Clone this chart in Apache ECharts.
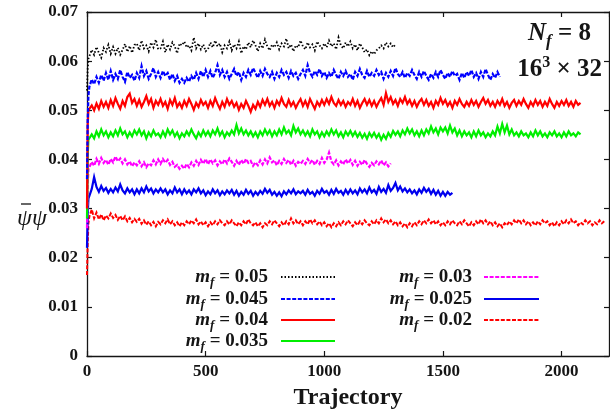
<!DOCTYPE html>
<html>
<head>
<meta charset="utf-8">
<script src="https://cdn.jsdelivr.net/npm/echarts@6/dist/echarts.min.js"></script>
<style>
  html, body { margin: 0; padding: 0; background: #fff; overflow: hidden; }
  #chart { width: 610px; height: 415px; }
</style>
</head>
<body>
<div id="chart"></div>
<script>
// Chiral condensate histories, Nf = 8 on a 16^3 x 32 lattice.
// Thermalization start: values at trajectories 0, 3, 6.
const headTraj = [0, 3, 6];
// Sampled history: one value every 10 trajectories, starting at 10.
const step = 10;

const masses = ['0.05', '0.045', '0.04', '0.035', '0.03', '0.025', '0.02'];

const head005 = [0.0540, 0.0585, 0.0605];
const hist005 = [
  0.0609, 0.0623, 0.0613, 0.0629, 0.0617, 0.0607, 0.0627, 0.0619, 0.0633, 0.0615,
  0.0629, 0.0615, 0.0627, 0.0613, 0.0623, 0.0635, 0.0619, 0.0631, 0.0617, 0.0633,
  0.0636, 0.0622, 0.0642, 0.0626, 0.0632, 0.0620, 0.0638, 0.0628, 0.0644, 0.0624,
  0.0626, 0.0640, 0.0618, 0.0634, 0.0624, 0.0638, 0.0630, 0.0616, 0.0636, 0.0632,
  0.0640, 0.0628, 0.0632, 0.0622, 0.0648, 0.0626, 0.0636, 0.0624, 0.0634, 0.0620,
  0.0624, 0.0638, 0.0628, 0.0642, 0.0630, 0.0636, 0.0618, 0.0632, 0.0626, 0.0640,
  0.0622, 0.0634, 0.0626, 0.0640, 0.0616, 0.0630, 0.0624, 0.0638, 0.0628, 0.0642,
  0.0632, 0.0620, 0.0636, 0.0626, 0.0644, 0.0630, 0.0622, 0.0634, 0.0628, 0.0638,
  0.0624, 0.0636, 0.0630, 0.0646, 0.0626, 0.0634, 0.0620, 0.0632, 0.0628, 0.0642,
  0.0630, 0.0624, 0.0638, 0.0628, 0.0634, 0.0622, 0.0640, 0.0632, 0.0626, 0.0636,
  0.0628, 0.0642, 0.0630, 0.0636, 0.0624, 0.0648, 0.0632, 0.0626, 0.0638, 0.0630,
  0.0640, 0.0626, 0.0634, 0.0622, 0.0636, 0.0628, 0.0618, 0.0624, 0.0612, 0.0620,
  0.0614, 0.0622, 0.0626, 0.0632, 0.0626, 0.0638, 0.0630, 0.0636, 0.0628, 0.0634
];

const head0045 = [0.0360, 0.0480, 0.0530];
const hist0045 = [
  0.0548, 0.0563, 0.0553, 0.0568, 0.0556, 0.0572, 0.0560, 0.0576, 0.0562, 0.0580,
  0.0562, 0.0574, 0.0564, 0.0582, 0.0568, 0.0558, 0.0578, 0.0566, 0.0572, 0.0560,
  0.0576, 0.0566, 0.0590, 0.0570, 0.0580, 0.0564, 0.0574, 0.0586, 0.0568, 0.0578,
  0.0566, 0.0580, 0.0570, 0.0576, 0.0562, 0.0574, 0.0560, 0.0570, 0.0556, 0.0564,
  0.0556, 0.0566, 0.0558, 0.0570, 0.0562, 0.0576, 0.0564, 0.0580, 0.0568, 0.0582,
  0.0568, 0.0580, 0.0566, 0.0576, 0.0592, 0.0572, 0.0582, 0.0568, 0.0578, 0.0564,
  0.0574, 0.0584, 0.0570, 0.0578, 0.0562, 0.0576, 0.0568, 0.0582, 0.0572, 0.0586,
  0.0576, 0.0566, 0.0580, 0.0570, 0.0584, 0.0574, 0.0568, 0.0578, 0.0564, 0.0576,
  0.0568, 0.0582, 0.0572, 0.0578, 0.0566, 0.0580, 0.0570, 0.0576, 0.0564, 0.0574,
  0.0582, 0.0570, 0.0592, 0.0576, 0.0568, 0.0580, 0.0572, 0.0584, 0.0570, 0.0578,
  0.0566, 0.0576, 0.0568, 0.0582, 0.0572, 0.0564, 0.0578, 0.0570, 0.0580, 0.0568,
  0.0574, 0.0562, 0.0578, 0.0570, 0.0584, 0.0572, 0.0566, 0.0580, 0.0568, 0.0576,
  0.0570, 0.0582, 0.0572, 0.0578, 0.0564, 0.0576, 0.0568, 0.0580, 0.0570, 0.0586,
  0.0574, 0.0568, 0.0578, 0.0566, 0.0576, 0.0570, 0.0582, 0.0572, 0.0564, 0.0578,
  0.0568, 0.0580, 0.0570, 0.0562, 0.0574, 0.0566, 0.0578, 0.0568, 0.0582, 0.0572,
  0.0564, 0.0576, 0.0568, 0.0580, 0.0570, 0.0574, 0.0562, 0.0576, 0.0566, 0.0578,
  0.0570, 0.0582, 0.0568, 0.0576, 0.0564, 0.0578, 0.0568, 0.0584, 0.0572, 0.0562,
  0.0574, 0.0566, 0.0578, 0.0568
];

const head004 = [0.0300, 0.0470, 0.0500];
const hist004 = [
  0.0498, 0.0510, 0.0500, 0.0514, 0.0503, 0.0519, 0.0507, 0.0517, 0.0505, 0.0521,
  0.0509, 0.0525, 0.0513, 0.0503, 0.0519, 0.0509, 0.0527, 0.0534, 0.0515, 0.0523,
  0.0509, 0.0521, 0.0507, 0.0517, 0.0529, 0.0513, 0.0523, 0.0505, 0.0519, 0.0511,
  0.0523, 0.0509, 0.0517, 0.0503, 0.0521, 0.0511, 0.0525, 0.0507, 0.0515, 0.0505,
  0.0519, 0.0509, 0.0523, 0.0513, 0.0501, 0.0515, 0.0507, 0.0521, 0.0511, 0.0517,
  0.0505, 0.0519, 0.0509, 0.0525, 0.0513, 0.0503, 0.0517, 0.0507, 0.0523, 0.0511,
  0.0519, 0.0507, 0.0515, 0.0501, 0.0513, 0.0505, 0.0519, 0.0509, 0.0497, 0.0511,
  0.0503, 0.0517, 0.0507, 0.0521, 0.0511, 0.0523, 0.0509, 0.0517, 0.0505, 0.0519,
  0.0511, 0.0525, 0.0513, 0.0507, 0.0521, 0.0509, 0.0517, 0.0505, 0.0515, 0.0523,
  0.0509, 0.0519, 0.0507, 0.0523, 0.0513, 0.0503, 0.0517, 0.0509, 0.0521, 0.0511,
  0.0523, 0.0513, 0.0527, 0.0515, 0.0509, 0.0521, 0.0511, 0.0519, 0.0507, 0.0517,
  0.0511, 0.0523, 0.0509, 0.0519, 0.0505, 0.0515, 0.0523, 0.0511, 0.0521, 0.0509,
  0.0519, 0.0507, 0.0517, 0.0525, 0.0511, 0.0535, 0.0517, 0.0527, 0.0513, 0.0521,
  0.0509, 0.0523, 0.0515, 0.0527, 0.0513, 0.0521, 0.0509, 0.0519, 0.0507, 0.0517,
  0.0523, 0.0511, 0.0521, 0.0509, 0.0517, 0.0505, 0.0519, 0.0511, 0.0525, 0.0513,
  0.0521, 0.0509, 0.0517, 0.0505, 0.0519, 0.0511, 0.0523, 0.0513, 0.0507, 0.0517,
  0.0509, 0.0521, 0.0511, 0.0519, 0.0507, 0.0517, 0.0525, 0.0513, 0.0521, 0.0509,
  0.0517, 0.0507, 0.0519, 0.0511, 0.0523, 0.0509, 0.0517, 0.0505, 0.0515, 0.0521,
  0.0509, 0.0519, 0.0511, 0.0523, 0.0513, 0.0505, 0.0517, 0.0509, 0.0521, 0.0511,
  0.0519, 0.0507, 0.0517, 0.0509, 0.0523, 0.0513, 0.0505, 0.0517, 0.0509, 0.0519,
  0.0511, 0.0521, 0.0509, 0.0517, 0.0507, 0.0519, 0.0511, 0.0515
];

const head0035 = [0.0280, 0.0410, 0.0440];
const hist0035 = [
  0.0440, 0.0451, 0.0443, 0.0457, 0.0447, 0.0461, 0.0449, 0.0457, 0.0445, 0.0455,
  0.0447, 0.0459, 0.0449, 0.0463, 0.0451, 0.0457, 0.0445, 0.0455, 0.0447, 0.0459,
  0.0451, 0.0461, 0.0449, 0.0457, 0.0443, 0.0455, 0.0447, 0.0459, 0.0449, 0.0453,
  0.0445, 0.0457, 0.0447, 0.0461, 0.0451, 0.0459, 0.0447, 0.0455, 0.0443, 0.0453,
  0.0447, 0.0457, 0.0449, 0.0461, 0.0451, 0.0443, 0.0455, 0.0447, 0.0459, 0.0449,
  0.0457, 0.0447, 0.0459, 0.0451, 0.0463, 0.0449, 0.0457, 0.0445, 0.0455, 0.0449,
  0.0459, 0.0451, 0.0470, 0.0453, 0.0463, 0.0451, 0.0459, 0.0449, 0.0457, 0.0447,
  0.0455, 0.0445, 0.0457, 0.0449, 0.0461, 0.0451, 0.0459, 0.0447, 0.0457, 0.0449,
  0.0461, 0.0451, 0.0465, 0.0453, 0.0459, 0.0449, 0.0468, 0.0455, 0.0463, 0.0451,
  0.0459, 0.0449, 0.0457, 0.0447, 0.0461, 0.0451, 0.0457, 0.0445, 0.0455, 0.0447,
  0.0457, 0.0449, 0.0461, 0.0451, 0.0459, 0.0447, 0.0455, 0.0445, 0.0457, 0.0449,
  0.0458, 0.0448, 0.0456, 0.0446, 0.0454, 0.0444, 0.0452, 0.0442, 0.0454, 0.0446,
  0.0454, 0.0444, 0.0452, 0.0440, 0.0450, 0.0442, 0.0454, 0.0446, 0.0458, 0.0450,
  0.0457, 0.0447, 0.0459, 0.0451, 0.0463, 0.0453, 0.0461, 0.0449, 0.0457, 0.0447,
  0.0459, 0.0449, 0.0461, 0.0453, 0.0467, 0.0455, 0.0463, 0.0451, 0.0465, 0.0457,
  0.0465, 0.0453, 0.0469, 0.0455, 0.0463, 0.0449, 0.0459, 0.0447, 0.0457, 0.0449,
  0.0455, 0.0445, 0.0457, 0.0447, 0.0459, 0.0449, 0.0455, 0.0445, 0.0453, 0.0447,
  0.0457, 0.0449, 0.0467, 0.0453, 0.0472, 0.0455, 0.0469, 0.0451, 0.0461, 0.0449,
  0.0455, 0.0447, 0.0457, 0.0449, 0.0453, 0.0445, 0.0455, 0.0447, 0.0459, 0.0449,
  0.0457, 0.0447, 0.0453, 0.0445, 0.0455, 0.0449, 0.0457, 0.0447, 0.0453, 0.0445,
  0.0455, 0.0447, 0.0457, 0.0449, 0.0453, 0.0447, 0.0455, 0.0451
];

const head003 = [0.0260, 0.0350, 0.0380];
const hist003 = [
  0.0381, 0.0395, 0.0387, 0.0401, 0.0391, 0.0403, 0.0393, 0.0399, 0.0389, 0.0401,
  0.0394, 0.0406, 0.0396, 0.0402, 0.0392, 0.0400, 0.0390, 0.0396, 0.0386, 0.0394,
  0.0388, 0.0396, 0.0386, 0.0394, 0.0384, 0.0392, 0.0388, 0.0398, 0.0390, 0.0400,
  0.0391, 0.0401, 0.0393, 0.0399, 0.0389, 0.0395, 0.0385, 0.0389, 0.0381, 0.0387,
  0.0381, 0.0391, 0.0384, 0.0394, 0.0387, 0.0397, 0.0389, 0.0399, 0.0391, 0.0401,
  0.0390, 0.0400, 0.0392, 0.0398, 0.0388, 0.0396, 0.0390, 0.0400, 0.0392, 0.0402,
  0.0395, 0.0387, 0.0397, 0.0389, 0.0399, 0.0391, 0.0401, 0.0393, 0.0397, 0.0387,
  0.0394, 0.0388, 0.0398, 0.0390, 0.0400, 0.0392, 0.0404, 0.0394, 0.0398, 0.0388,
  0.0397, 0.0391, 0.0401, 0.0393, 0.0399, 0.0389, 0.0397, 0.0387, 0.0395, 0.0391,
  0.0397, 0.0391, 0.0401, 0.0393, 0.0399, 0.0389, 0.0397, 0.0391, 0.0403, 0.0393,
  0.0400, 0.0414, 0.0396, 0.0390, 0.0398, 0.0388, 0.0396, 0.0390, 0.0400, 0.0392,
  0.0399, 0.0389, 0.0397, 0.0387, 0.0395, 0.0389, 0.0399, 0.0391, 0.0385, 0.0393,
  0.0388, 0.0396, 0.0390, 0.0398, 0.0388, 0.0394, 0.0386, 0.0392
];

const head0025 = [0.0220, 0.0290, 0.0320];
const hist0025 = [
  0.0324, 0.0340, 0.0364, 0.0344, 0.0334, 0.0346, 0.0336, 0.0342, 0.0332, 0.0340,
  0.0333, 0.0343, 0.0335, 0.0349, 0.0337, 0.0331, 0.0341, 0.0333, 0.0339, 0.0329,
  0.0339, 0.0331, 0.0341, 0.0333, 0.0345, 0.0335, 0.0341, 0.0331, 0.0339, 0.0333,
  0.0341, 0.0333, 0.0339, 0.0329, 0.0337, 0.0331, 0.0343, 0.0333, 0.0339, 0.0329,
  0.0339, 0.0331, 0.0337, 0.0329, 0.0339, 0.0333, 0.0341, 0.0331, 0.0337, 0.0327,
  0.0335, 0.0329, 0.0339, 0.0331, 0.0337, 0.0327, 0.0335, 0.0329, 0.0337, 0.0331,
  0.0338, 0.0328, 0.0336, 0.0326, 0.0334, 0.0328, 0.0338, 0.0330, 0.0336, 0.0326,
  0.0334, 0.0328, 0.0336, 0.0330, 0.0340, 0.0332, 0.0338, 0.0328, 0.0334, 0.0326,
  0.0333, 0.0325, 0.0335, 0.0329, 0.0337, 0.0331, 0.0339, 0.0329, 0.0335, 0.0331,
  0.0336, 0.0328, 0.0338, 0.0330, 0.0334, 0.0326, 0.0336, 0.0330, 0.0340, 0.0332,
  0.0336, 0.0328, 0.0338, 0.0330, 0.0340, 0.0332, 0.0336, 0.0328, 0.0338, 0.0330,
  0.0339, 0.0331, 0.0337, 0.0329, 0.0341, 0.0333, 0.0339, 0.0331, 0.0343, 0.0333,
  0.0338, 0.0330, 0.0344, 0.0334, 0.0340, 0.0332, 0.0348, 0.0336, 0.0342, 0.0352,
  0.0337, 0.0345, 0.0335, 0.0341, 0.0333, 0.0339, 0.0331, 0.0337, 0.0329, 0.0339,
  0.0332, 0.0342, 0.0334, 0.0340, 0.0330, 0.0338, 0.0328, 0.0336, 0.0326, 0.0334,
  0.0326, 0.0334, 0.0328, 0.0332
];

const head002 = [0.0165, 0.0230, 0.0270];
const hist002 = [
  0.0284, 0.0298, 0.0280, 0.0292, 0.0278, 0.0288, 0.0276, 0.0286, 0.0280, 0.0290,
  0.0281, 0.0287, 0.0277, 0.0285, 0.0276, 0.0284, 0.0274, 0.0281, 0.0272, 0.0279,
  0.0273, 0.0279, 0.0269, 0.0276, 0.0267, 0.0274, 0.0266, 0.0273, 0.0264, 0.0273,
  0.0268, 0.0276, 0.0270, 0.0278, 0.0268, 0.0274, 0.0266, 0.0272, 0.0264, 0.0272,
  0.0266, 0.0274, 0.0268, 0.0276, 0.0270, 0.0278, 0.0268, 0.0274, 0.0266, 0.0272,
  0.0264, 0.0272, 0.0266, 0.0274, 0.0268, 0.0276, 0.0270, 0.0266, 0.0274, 0.0268,
  0.0276, 0.0270, 0.0264, 0.0272, 0.0266, 0.0274, 0.0268, 0.0278, 0.0270, 0.0266,
  0.0272, 0.0264, 0.0270, 0.0262, 0.0270, 0.0266, 0.0274, 0.0268, 0.0276, 0.0270,
  0.0264, 0.0272, 0.0266, 0.0274, 0.0268, 0.0280, 0.0270, 0.0276, 0.0268, 0.0274,
  0.0266, 0.0274, 0.0268, 0.0278, 0.0270, 0.0276, 0.0268, 0.0274, 0.0266, 0.0272,
  0.0264, 0.0270, 0.0262, 0.0270, 0.0264, 0.0272, 0.0266, 0.0274, 0.0268, 0.0276,
  0.0270, 0.0264, 0.0272, 0.0266, 0.0274, 0.0268, 0.0276, 0.0270, 0.0266, 0.0274,
  0.0268, 0.0276, 0.0270, 0.0280, 0.0272, 0.0278, 0.0270, 0.0276, 0.0268, 0.0274,
  0.0266, 0.0272, 0.0264, 0.0270, 0.0262, 0.0270, 0.0264, 0.0272, 0.0266, 0.0274,
  0.0268, 0.0276, 0.0270, 0.0278, 0.0270, 0.0276, 0.0268, 0.0274, 0.0266, 0.0272,
  0.0266, 0.0274, 0.0268, 0.0276, 0.0270, 0.0266, 0.0274, 0.0268, 0.0276, 0.0270,
  0.0264, 0.0272, 0.0266, 0.0274, 0.0268, 0.0278, 0.0270, 0.0276, 0.0268, 0.0274,
  0.0266, 0.0272, 0.0264, 0.0270, 0.0262, 0.0270, 0.0266, 0.0274, 0.0268, 0.0276,
  0.0270, 0.0278, 0.0270, 0.0276, 0.0268, 0.0274, 0.0266, 0.0272, 0.0266, 0.0274,
  0.0268, 0.0276, 0.0270, 0.0274, 0.0266, 0.0272, 0.0264, 0.0272, 0.0266, 0.0274,
  0.0268, 0.0276, 0.0270, 0.0278, 0.0270, 0.0274, 0.0266, 0.0272, 0.0268, 0.0276,
  0.0270, 0.0274, 0.0266, 0.0272, 0.0268, 0.0276, 0.0270, 0.0274
];

const xTicks = [0, 500, 1000, 1500, 2000];
const yTicks = [0, 0.01, 0.02, 0.03, 0.04, 0.05, 0.06, 0.07];

const SERIF = '"Liberation Serif", "Times New Roman", serif';
const INK = '#151515';

// Colour, line pattern and stroke width per mass
const styles = [
  { color: '#000000', dash: [1.5, 2.0], width: 1.8 },
  { color: '#0000ff', dash: [4, 1.6], width: 2.2 },
  { color: '#ff0000', dash: 'solid', width: 2.2 },
  { color: '#00ee00', dash: 'solid', width: 2.2 },
  { color: '#ff00ff', dash: [4, 1.6], width: 2.2 },
  { color: '#0000ee', dash: 'solid', width: 2.2 },
  { color: '#ff0000', dash: [4, 1.6], width: 2.0 }
];

const heads = [head005, head0045, head004, head0035, head003, head0025, head002];
const hists = [hist005, hist0045, hist004, hist0035, hist003, hist0025, hist002];

function toPoints(head, hist) {
  const pts = head.map((v, i) => [headTraj[i], v]);
  hist.forEach((v, i) => pts.push([(i + 1) * step, v]));
  return pts;
}

const series = masses.map((m, k) => ({
  name: 'mf=' + m,
  type: 'line',
  xAxisIndex: 0,
  yAxisIndex: 0,
  symbol: 'none',
  showSymbol: false,
  silent: true,
  animation: false,
  lineStyle: { color: styles[k].color, width: styles[k].width, type: styles[k].dash, join: 'miter' },
  data: toPoints(heads[k], hists[k]),
  z: 10 - k
}));

// Key: two right-aligned columns of labels with line samples
const legendGraphics = [];
const colText = [268, 472];
const colLine = [[281, 335], [484, 539]];
const rowY = [277, 299, 320, 341];
masses.forEach((m, k) => {
  const col = k < 4 ? 0 : 1;
  const row = k < 4 ? k : k - 4;
  const y = rowY[row];
  legendGraphics.push({
    type: 'text',
    x: colText[col],
    y: y,
    silent: true,
    style: {
      text: '{m|m}{s|f}{t| = ' + m + '}',
      align: 'right',
      verticalAlign: 'middle',
      fill: INK,
      rich: {
        m: { font: 'italic bold 19px ' + SERIF, fill: INK, lineHeight: 24, verticalAlign: 'middle' },
        s: { font: 'italic bold 13px ' + SERIF, fill: INK, lineHeight: 24, verticalAlign: 'bottom' },
        t: { font: 'bold 19px ' + SERIF, fill: INK, lineHeight: 24, verticalAlign: 'middle' }
      }
    }
  });
  legendGraphics.push({
    type: 'line',
    silent: true,
    shape: { x1: colLine[col][0], y1: y, x2: colLine[col][1], y2: y },
    style: {
      stroke: styles[k].color,
      lineWidth: 1.8,
      lineDash: styles[k].dash === 'solid' ? null : styles[k].dash
    }
  });
});

const annotations = [
  {
    type: 'text', x: 591, y: 34, silent: true,
    style: {
      text: '{n|N}{s|f}{t| = 8}',
      align: 'right', verticalAlign: 'middle', fill: INK,
      rich: {
        n: { font: 'italic bold 25px ' + SERIF, fill: INK, lineHeight: 32, verticalAlign: 'middle' },
        s: { font: 'italic bold 17px ' + SERIF, fill: INK, lineHeight: 32, verticalAlign: 'bottom' },
        t: { font: 'bold 25px ' + SERIF, fill: INK, lineHeight: 32, verticalAlign: 'middle' }
      }
    }
  },
  {
    type: 'text', x: 602, y: 70, silent: true,
    style: {
      text: '{t|16}{p|3}{t| \u00d7 32}',
      align: 'right', verticalAlign: 'middle', fill: INK,
      rich: {
        t: { font: 'bold 25px ' + SERIF, fill: INK, lineHeight: 30, verticalAlign: 'middle' },
        p: { font: 'bold 16px ' + SERIF, fill: INK, lineHeight: 30, verticalAlign: 'top' }
      }
    }
  },
  // y-axis quantity: psi-bar psi
  {
    type: 'text', x: 17, y: 219, silent: true,
    style: {
      text: '\u03c8\u03c8',
      font: 'italic 24px ' + SERIF,
      fill: INK,
      align: 'left', verticalAlign: 'middle'
    }
  },
  {
    type: 'line', silent: true,
    shape: { x1: 21, y1: 204, x2: 31, y2: 204 },
    style: { stroke: INK, lineWidth: 1.3 }
  }
];

const axisLineStyle = { color: INK, width: 1.3 };
const tickStyle = { color: INK, width: 1.2 };
const labelFont = { fontFamily: SERIF, fontWeight: 'bold', fontSize: 17, color: INK };

const dom = document.getElementById('chart');
const chart = echarts.init(dom, null, { renderer: 'canvas', width: 610, height: 415 });
chart.setOption({
  animation: false,
  backgroundColor: '#ffffff',
  grid: { left: 87, right: 1, top: 12, bottom: 58, containLabel: false },
  xAxis: [
    {
      type: 'value', position: 'bottom', min: 0, max: 2200, interval: 500,
      axisLine: { show: true, onZero: false, lineStyle: axisLineStyle },
      axisTick: { show: true, inside: true, length: 5, lineStyle: tickStyle },
      axisLabel: Object.assign({ margin: 7, showMaxLabel: false,
        formatter: v => (xTicks.indexOf(v) >= 0 ? String(v) : '') }, labelFont),
      splitLine: { show: false },
      name: 'Trajectory', nameLocation: 'middle', nameGap: 30,
      nameTextStyle: { fontFamily: SERIF, fontWeight: 'bold', fontSize: 24, color: INK }
    },
    {
      type: 'value', position: 'top', min: 0, max: 2200, interval: 500,
      axisLine: { show: true, onZero: false, lineStyle: axisLineStyle },
      axisTick: { show: true, inside: true, length: 5, lineStyle: tickStyle },
      axisLabel: { show: false },
      splitLine: { show: false }
    }
  ],
  yAxis: [
    {
      type: 'value', position: 'left', min: 0, max: 0.07, interval: 0.01,
      axisLine: { show: true, onZero: false, lineStyle: axisLineStyle },
      axisTick: { show: true, inside: true, length: 5, lineStyle: tickStyle },
      axisLabel: Object.assign({ margin: 9,
        formatter: v => {
          const t = yTicks.find(y => Math.abs(y - v) < 1e-9);
          if (t === undefined) return '';
          return t === 0 ? '0' : t.toFixed(2);
        } }, labelFont),
      splitLine: { show: false }
    },
    {
      type: 'value', position: 'right', min: 0, max: 0.07, interval: 0.01,
      axisLine: { show: true, onZero: false, lineStyle: axisLineStyle },
      axisTick: { show: true, inside: true, length: 5, lineStyle: tickStyle },
      axisLabel: { show: false },
      splitLine: { show: false }
    }
  ],
  series: series,
  graphic: { elements: legendGraphics.concat(annotations) }
});
</script>
</body>
</html>
